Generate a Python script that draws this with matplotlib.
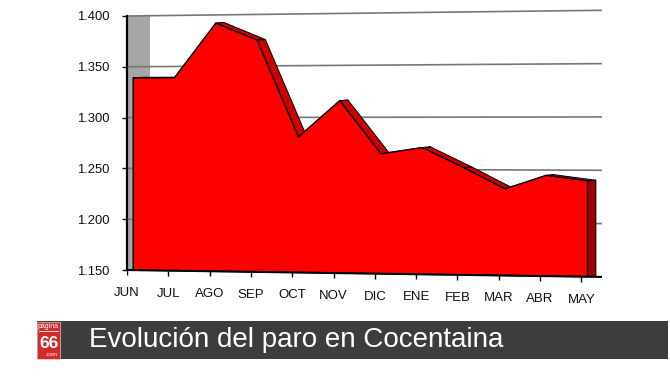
import matplotlib
matplotlib.use("Agg")
import matplotlib.pyplot as plt
from matplotlib.patches import Polygon, Rectangle
import numpy as np

plt.rcParams['font.family'] = ['Liberation Sans', 'DejaVu Sans']

# ---- data ----
months = ["JUN", "JUL", "AGO", "SEP", "OCT", "NOV", "DIC", "ENE", "FEB", "MAR", "ABR", "MAY"]
paro = [1339, 1339, 1392, 1375, 1281, 1316, 1265, 1271, 1252, 1232, 1245, 1240]
yticks = [1150, 1200, 1250, 1300, 1350, 1400]
title = "Evolución del paro en Cocentaina"

W, H = 670, 377
fig = plt.figure(figsize=(W / 100, H / 100), dpi=100)
fig.patch.set_facecolor("white")

XMAX = 11.5
YMIN, YMAX = 1138, 1412
ax = fig.add_axes([127 / W, (H - 282.2) / H, 475 / W, 278.4 / H])
ax.set_xlim(0, XMAX)
ax.set_ylim(YMIN, YMAX)
ax.set_facecolor("none")


def persp(x, v):
    """slight perspective skew of the value axis along x"""
    t = np.asarray(x) / XMAX
    v = np.asarray(v, dtype=float)
    return v + (-63.84 + 0.0496 * v) * t


# back side wall
wall = Rectangle((0, yticks[0]), 0.56, yticks[-1] - yticks[0], facecolor="#a6a6a6",
                 edgecolor="none", zorder=0.5)
ax.add_patch(wall)

# gridlines
for v in yticks[1:]:
    xs = np.array([0, XMAX])
    ax.plot(xs, persp(xs, [v, v]), color="#777777", lw=1.2, zorder=1, solid_capstyle="butt")

# area
OFF = 0.15
xs = np.arange(len(paro)) + OFF
ys = persp(xs, paro)
dx, dy = 0.2, 0.6
base = persp(xs, [yticks[0]] * len(xs))

# depth band on top edge
for i in range(len(xs) - 1):
    quad = [(xs[i], ys[i]), (xs[i + 1], ys[i + 1]),
            (xs[i + 1] + dx, ys[i + 1] + dy), (xs[i] + dx, ys[i] + dy)]
    ax.add_patch(Polygon(quad, closed=True, facecolor="#cc0000", edgecolor="black",
                         lw=0.7, zorder=2, joinstyle="round"))
# right end face
endq = [(xs[-1], ys[-1]), (xs[-1] + dx, ys[-1] + dy),
        (xs[-1] + dx, base[-1]), (xs[-1], base[-1])]
ax.add_patch(Polygon(endq, closed=True, facecolor="#a00000", edgecolor="black",
                     lw=0.8, zorder=2))

front = list(zip(xs, ys)) + [(xs[-1], base[-1]), (xs[0], base[0])]
ax.add_patch(Polygon(front, closed=True, facecolor="#ff0000", edgecolor="black",
                     lw=1.0, zorder=3, joinstyle="round"))

# bottom axis line (skewed)
bx = np.array([0, XMAX])
ax.plot(bx, persp(bx, [yticks[0]] * 2), color="black", lw=1.5, zorder=4,
        solid_capstyle="butt")
tx = np.arange(len(months))
ty = persp(tx, [yticks[0]] * len(tx))
ax.plot(tx, ty, linestyle="none", marker=3, markersize=3.5, color="black",
        markeredgewidth=1.0, zorder=4)
for x, y, lab in zip(tx, ty, months):
    ax.annotate(lab, (x, y), xytext=(0, -16.5), textcoords="offset points",
                ha="center", va="center", fontsize=9.5, color="#111111")

# value axis
ax.set_yticks(yticks)
ax.set_yticklabels([f"{v/1000:.3f}" for v in yticks])
ax.tick_params(axis="y", length=3.5, width=1.0, pad=9, labelsize=9.4, colors="#111111")
ax.set_xticks([])
for s in ["top", "right", "bottom"]:
    ax.spines[s].set_visible(False)
ax.spines["left"].set_bounds(yticks[0], yticks[-1])
ax.spines["left"].set_linewidth(1.6)
ax.spines["left"].set_zorder(4)

# ---- banner ----
ov = fig.add_axes([0, 0, 1, 1])
ov.set_xlim(0, W)
ov.set_ylim(H, 0)
ov.axis("off")
ov.add_patch(Rectangle((37, 321), 631, 38, facecolor="#3d3d3d", edgecolor="none"))
ov.add_patch(Rectangle((37, 321.5), 23, 37.5, facecolor="#d12a2a", edgecolor="#eeeeee", lw=0.4))
ov.text(48.5, 326.5, "página", color="white", fontsize=5, ha="center", va="center")
ov.plot([39, 58], [331, 331], color="white", lw=0.6)
ov.text(48.5, 343, "66", color="white", fontsize=12.5, fontweight="bold",
        ha="center", va="center")
ov.text(57, 354.5, ".com", color="white", fontsize=4, ha="right", va="center")
ov.text(89, 340, title, color="white", fontsize=20, ha="left", va="center")

fig.savefig("out.png", dpi=100, facecolor="white")
